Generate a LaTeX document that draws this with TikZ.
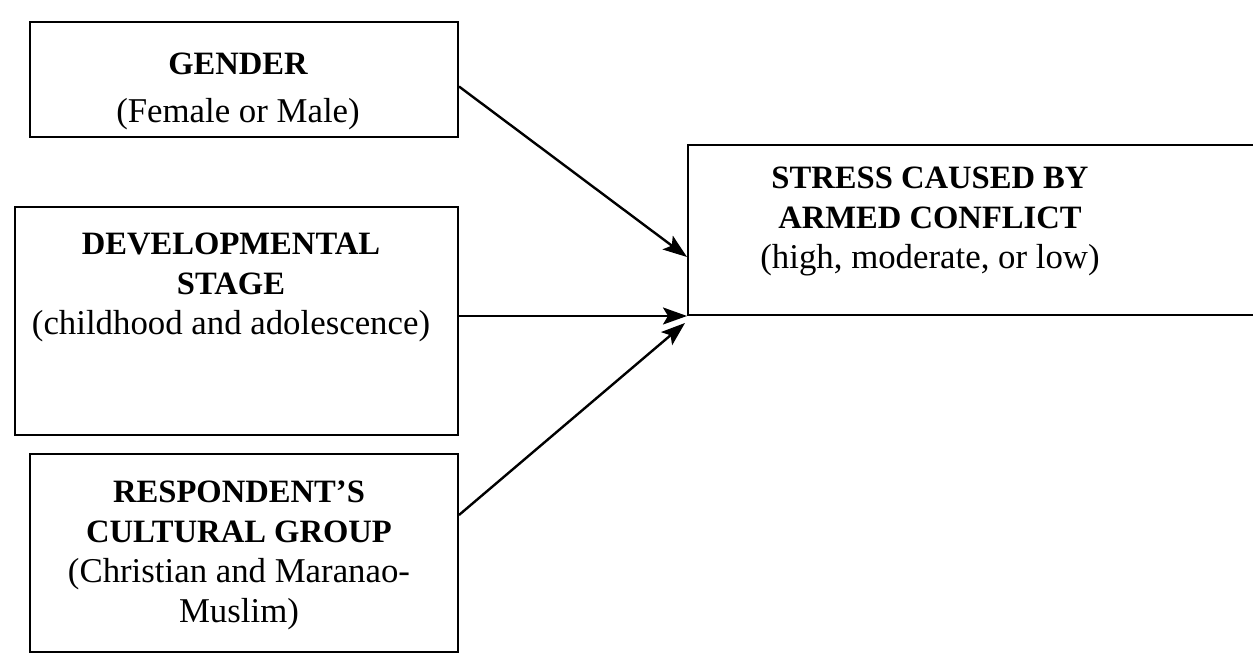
\documentclass[tikz,border=0pt]{standalone}
\usepackage{fontspec}
\setmainfont{Liberation Serif}
\usetikzlibrary{arrows.meta}
\newcommand\hdg[1]{{\fontsize{16.3}{20}\selectfont\bfseries #1}}
\begin{document}
\begin{tikzpicture}[x=0.5pt,y=-0.5pt,
  box/.style={draw,line width=1pt,inner sep=0pt,rectangle},
  txt/.style={align=center,inner sep=0pt,anchor=north,font=\fontsize{17.4}{20}\selectfont},
  conn/.style={line width=1.2pt,-{Stealth[length=12pt,width=8.5pt,inset=2.5pt]}}]
\useasboundingbox (0,0) rectangle (1253,656);
\clip (0,0) rectangle (1253,656);
% boxes
\node[box,minimum width=214pt,minimum height=57.5pt] (g) at (244,79.5) {};
\node[box,minimum width=221.5pt,minimum height=114pt] (d) at (236.5,321) {};
\node[box,minimum width=214pt,minimum height=99pt] (r) at (244,553) {};
\node[box,minimum width=306pt,minimum height=85pt] (s) at (994,230) {};
% texts
\node[txt] (gt) at (238,53) {\hdg{GENDER}\\[4pt](Female or Male)};
\node[txt] (dt) at (231,233) {\hdg{DEVELOPMENTAL}\\\hdg{STAGE}\\(childhood and adolescence)};
\node[txt] (rt) at (239,480) {\hdg{RESPONDENT'S}\\\hdg{CULTURAL GROUP}\\(Christian and Maranao-\\Muslim)};
\node[txt] (st) at (930,167) {\hdg{STRESS CAUSED BY}\\\hdg{ARMED CONFLICT}\\(high, moderate, or low)};
% connectors
\draw[conn] ([yshift=-3.5pt]g.east) -- ([yshift=-13.5pt]s.west);
\draw[conn] (d.east |- s.south west) -- (s.south west);
\draw[conn] ([yshift=19pt]r.east) -- ([shift={(-1pt,-3.5pt)}]s.south west);
\end{tikzpicture}
\end{document}
